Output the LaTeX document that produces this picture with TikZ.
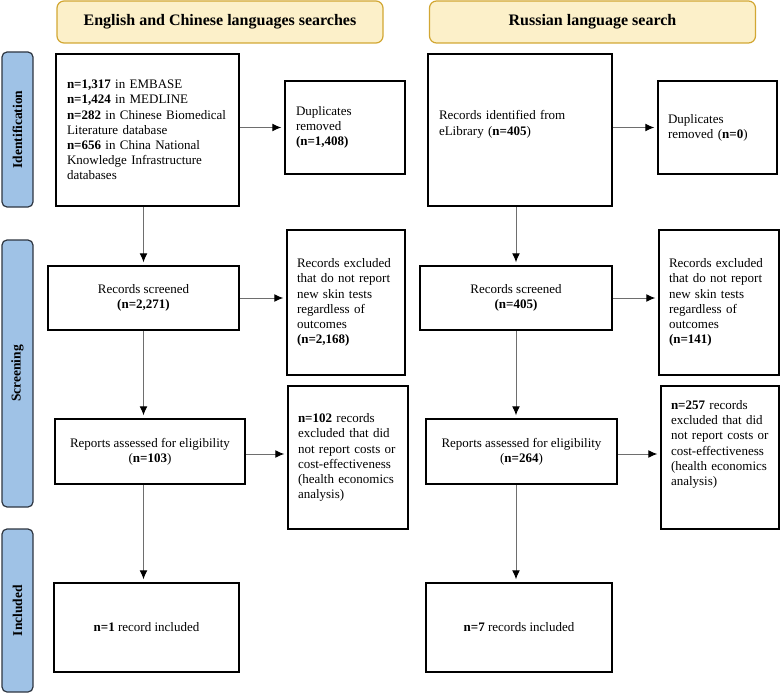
\documentclass[tikz,border=0pt]{standalone}
\usepackage{fontspec}
\setmainfont{Liberation Serif}
\usepackage{xcolor}
\usetikzlibrary{arrows.meta}

\definecolor{headfill}{HTML}{FCF0C9}
\definecolor{headline}{HTML}{D2A733}
\definecolor{sidefill}{HTML}{9FC2E6}
\definecolor{sideline}{HTML}{2E3641}
\definecolor{arrline}{HTML}{6E6E6E}

\begin{document}
\begin{tikzpicture}[x=1pt,y=-1pt,
	box/.style={draw,line width=1.5pt,inner sep=0pt,font=\fontsize{13}{15.2}\selectfont},
	head/.style={draw=headline,fill=headfill,line width=1.2pt,rounded corners=7pt,
		minimum width=326pt,minimum height=42pt,font=\fontsize{16}{18}\selectfont\bfseries},
	side/.style={draw=sideline,fill=sidefill,line width=1.2pt,rounded corners=5pt,
		rotate=90,minimum height=31pt,font=\fontsize{13.5}{15}\selectfont\bfseries},
	arr/.style={draw=arrline,line width=1pt,shorten >=3pt,-{Latex[black,length=9pt,width=8pt]}}]
	\useasboundingbox (0,0) rectangle (780,693);

	\node [head] (headA) at (220,22) {English and Chinese languages searches};
	\node [head] (headB) at (592.5,22) {Russian language search};

	\node [side,minimum width=155pt] (ident) at (17.5,129.5) {Identification};
	\node [side,minimum width=267pt] (screen) at (17.5,373.5) {Screening};
	\node [side,minimum width=163pt] (incl) at (17.5,610.5) {Included};

	\node [box,minimum width=183pt,minimum height=152pt,text width=161pt,align=left] (idA) at (147.5,130)
		{\textbf{n=1,317} in EMBASE\\\textbf{n=1,424} in MEDLINE\\\textbf{n=282} in Chinese Biomedical\\Literature database\\\textbf{n=656} in China National\\Knowledge Infrastructure\\databases};
	\node [box,minimum width=120pt,minimum height=93pt,text width=98pt,align=left] (dupA) at (345,127.5)
		{Duplicates\\removed\\\textbf{(n=1,408)}};
	\node [box,minimum width=191pt,minimum height=64pt,align=center] (scrA) at (143.5,298)
		{Records screened\\\textbf{(n=2,271)}};
	\node [box,minimum width=118pt,minimum height=145pt,text width=98pt,align=left] (excA) at (346,302.5)
		{Records excluded\\that do not report\\new skin tests\\regardless of\\outcomes\\\textbf{(n=2,168)}};
	\node [box,minimum width=190pt,minimum height=65pt,align=center] (repA) at (150,451.5)
		{Reports assessed for eligibility\\(\textbf{n=103})};
	\node [box,minimum width=120pt,minimum height=143pt,text width=100pt,align=left] (elgA) at (348,457.5)
		{\textbf{n=102} records\\excluded that did\\not report costs or\\cost-effectiveness\\(health economics\\analysis)};
	\node [box,minimum width=185pt,minimum height=89pt,align=center] (incA) at (146.5,627.5)
		{\textbf{n=1} record included};

	\node [box,minimum width=184pt,minimum height=152pt,text width=162pt,align=left] (idB) at (520,130)
		{Records identified from\\eLibrary (\textbf{n=405})\\[-1pt]\mbox{}};
	\node [box,minimum width=119pt,minimum height=93pt,text width=99pt,align=left] (dupB) at (717.5,127.5)
		{Duplicates\\removed (\textbf{n=0})};
	\node [box,minimum width=192pt,minimum height=64pt,align=center] (scrB) at (516,298)
		{Records screened\\\textbf{(n=405)}};
	\node [box,minimum width=120pt,minimum height=145pt,text width=100pt,align=left] (excB) at (719,302.5)
		{Records excluded\\that do not report\\new skin tests\\regardless of\\outcomes\\\textbf{(n=141)}};
	\node [box,minimum width=191pt,minimum height=65pt,align=center] (repB) at (521.5,451.5)
		{Reports assessed for eligibility\\(\textbf{n=264})};
	\node [box,minimum width=118pt,minimum height=143pt,text width=98pt,align=left] (elgB) at (720,457.5)
		{\textbf{n=257} records\\excluded that did\\not report costs or\\cost-effectiveness\\(health economics\\analysis)\\[14pt]\mbox{}};
	\node [box,minimum width=186pt,minimum height=89pt,align=center] (incB) at (519,627.5)
		{\textbf{n=7} records included};

	\draw [arr] (idA.east |- dupA.west) -- (dupA.west);
	\draw [arr] (scrA.east) -- (scrA.east -| excA.west);
	\draw [arr] (repA.east |- 0,454) -- (elgA.west |- 0,454);
	\draw [arr] (idA.south -| scrA) -- (scrA.north);
	\draw [arr] (scrA.south) -- (repA.north -| scrA);
	\draw [arr] (repA.south -| scrA) -- (incA.north -| scrA);

	\draw [arr] (idB.east |- dupB.west) -- (dupB.west);
	\draw [arr] (scrB.east) -- (scrB.east -| excB.west);
	\draw [arr] (repB.east |- 0,454) -- (elgB.west |- 0,454);
	\draw [arr] (idB.south -| scrB) -- (scrB.north);
	\draw [arr] (scrB.south) -- (repB.north -| scrB);
	\draw [arr] (repB.south -| scrB) -- (incB.north -| scrB);

\end{tikzpicture}
\end{document}
